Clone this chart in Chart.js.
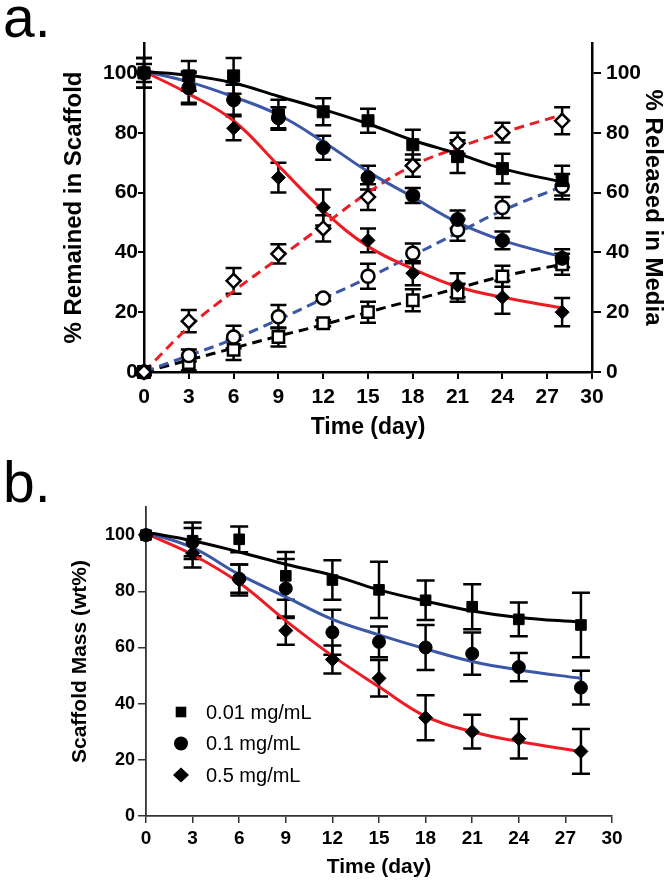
<!DOCTYPE html>
<html>
<head>
<meta charset="utf-8">
<script src="https://cdn.jsdelivr.net/npm/chart.js@4.4.1/dist/chart.umd.min.js"></script>
<style>
  html, body { margin: 0; padding: 0; background: #fff; }
  #wrap { position: relative; width: 672px; height: 886px; }
  canvas { position: absolute; left: 0; }
  #chartA { top: 0; }
  #chartB { top: 460px; }
</style>
</head>
<body>
<div id="wrap">
  <canvas id="chartA" width="672" height="450"></canvas>
  <canvas id="chartB" width="672" height="426"></canvas>
</div>
<script>
// ---- data ----
const days = [0, 3, 6, 9, 12, 15, 18, 21, 24, 28];
const xTicks = [0, 3, 6, 9, 12, 15, 18, 21, 24, 27, 30];
const yTicks = [0, 20, 40, 60, 80, 100];

// panel a: % remained in scaffold (filled) and % released in media (open)
const remLow = [100, 99, 99, 86, 87, 84, 76, 72, 68, 64];
const remLowErr = [5, 5, 6, 5, 4.5, 4, 5, 5.5, 5, 5];
const remMid = [100, 95, 91, 85, 75, 65, 59, 51, 44, 38];
const remMidErr = [5, 5.5, 5, 3.5, 4, 4, 2.5, 3, 3, 3];
const remHigh = [100, 95, 81.5, 65, 55, 44, 33, 29, 25, 20];
const remHighErr = [3, 5, 4, 5, 6, 4, 4, 4, 5.5, 4.7];

const relHigh = [0, 17, 30.5, 39.5, 48, 58.5, 69, 76.5, 80, 84];
const relHighErr = [1, 3.7, 4.3, 3.2, 4.4, 4.3, 3.7, 3.5, 3.3, 4.5];
const relMid = [0, 5.5, 11.7, 18.5, 24.7, 32, 39.7, 47.5, 55, 62];
const relMidErr = [1, 2, 3.8, 3.9, 1, 4.2, 3.3, 3.6, 3.5, 4.2];
const relLow = [0, 3, 7.4, 11.7, 16.3, 20, 24, 26.5, 32, 36];
const relLowErr = [1, 2.5, 3.4, 3.2, 1, 3.5, 3.7, 3, 3.5, 3.5];

// fitted curves
const fitRemLow = [100.5, 99.2, 96.6, 92.2, 87.8, 83, 77.5, 73, 68, 63.5];
const fitRemMid = [100.5, 97, 92, 86, 77, 67, 58.5, 50, 44, 38.5];
const fitRemHigh = [100.5, 93, 84, 69, 54, 42, 34.5, 28.5, 25, 21.4];
const fitRelHigh = [0, 15, 27, 38, 49, 60, 69, 75, 80, 86];
const fitRelMid = [0, 5.5, 11, 17.5, 24.5, 31.5, 39, 46.5, 54, 62];
const fitRelLow = [0, 4, 8, 12, 15.8, 20, 24, 28, 32, 36];

// panel b: scaffold mass
const massLow = [100, 98, 98.5, 85.5, 84, 80.5, 76.8, 74.5, 70, 68];
const massLowErr = [0, 6.5, 4.6, 8.5, 7, 10, 7, 8, 6, 11.5];
const massMid = [100, 97.5, 84.5, 81, 65.4, 62, 60, 57.8, 53, 45.7];
const massMidErr = [0, 5, 5, 10.5, 8, 5.5, 8, 7.5, 5, 6];
const massHigh = [100, 93.5, 84, 66, 55.7, 49, 35, 30, 27.5, 23];
const massHighErr = [0, 5, 5.5, 5, 5, 6.5, 8, 6, 7, 8];

const fitMassLow = [101, 98, 94, 89.6, 85.7, 80.5, 76.5, 73, 70.7, 69];
const fitMassMid = [101, 95.5, 86, 78, 70, 64.5, 59.5, 55, 52, 49];
const fitMassHigh = [100.5, 93, 83, 69.5, 57, 46, 35.5, 30, 26.5, 23];

const legendNames = ['0.01 mg/mL', '0.1 mg/mL', '0.5 mg/mL'];

// ---- styling ----
const FONT = "'Liberation Sans', Arial, Helvetica, sans-serif";
const RED = '#ed1c24';
const BLUE = '#3b57a7';
const BLACK = '#000';

const pts = vals => days.map((d, i) => ({ x: d, y: vals[i] }));

function markers(vals, errs, style, radius, open, axis) {
  return {
    data: pts(vals),
    errors: errs,
    yAxisID: axis,
    showLine: false,
    pointStyle: style,
    pointRadius: radius,
    pointHoverRadius: radius,
    pointBackgroundColor: open ? '#fff' : BLACK,
    pointBorderColor: BLACK,
    pointBorderWidth: open ? 2.5 : 1,
    clip: false
  };
}

function fit(vals, color, dashed, axis, width) {
  return {
    data: pts(vals),
    yAxisID: axis,
    borderColor: color,
    borderWidth: width,
    borderDash: dashed ? [10, 6] : [],
    pointRadius: 0,
    tension: 0.4,
    fill: false,
    clip: false
  };
}

// vertical error bars with caps, drawn under the markers
const errorBars = {
  id: 'errorBars',
  beforeDatasetsDraw(chart, args, opts) {
    const ctx = chart.ctx;
    chart.data.datasets.forEach((ds, i) => {
      if (!ds.errors) return;
      const meta = chart.getDatasetMeta(i);
      const ys = chart.scales[meta.yAxisID];
      ctx.save();
      ctx.strokeStyle = BLACK;
      ctx.lineWidth = opts.width;
      meta.data.forEach((pt, j) => {
        const e = ds.errors[j];
        if (!e) return;
        const v = ds.data[j].y;
        const top = ys.getPixelForValue(v + e);
        const bot = ys.getPixelForValue(v - e);
        const x = pt.x;
        ctx.beginPath();
        ctx.moveTo(x, top); ctx.lineTo(x, bot);
        ctx.moveTo(x - opts.cap, top); ctx.lineTo(x + opts.cap, top);
        ctx.moveTo(x - opts.cap, bot); ctx.lineTo(x + opts.cap, bot);
        ctx.stroke();
      });
      ctx.restore();
    });
  }
};

// panel letter and the in-plot legend
const decor = {
  id: 'decor',
  afterDraw(chart, args, opts) {
    const ctx = chart.ctx;
    ctx.save();
    ctx.fillStyle = BLACK;
    ctx.font = '57px ' + FONT;
    ctx.textBaseline = 'alphabetic';
    ctx.fillText(opts.letter, 3, opts.letterY);
    if (opts.legend) {
      ctx.font = '20px ' + FONT;
      ctx.textBaseline = 'middle';
      const styles = ['rect', 'circle', 'diamond'];
      legendNames.forEach((name, i) => {
        const y = 252 + i * 31.5;
        const x = 181;
        ctx.beginPath();
        if (styles[i] === 'rect') {
          ctx.rect(x - 5.3, y - 5.3, 10.6, 10.6);
        } else if (styles[i] === 'circle') {
          ctx.arc(x, y, 7, 0, Math.PI * 2);
        } else {
          ctx.moveTo(x, y - 7.5); ctx.lineTo(x + 8, y);
          ctx.lineTo(x, y + 7.5); ctx.lineTo(x - 8, y);
          ctx.closePath();
        }
        ctx.fill();
        ctx.fillText(name, 206, y + 1);
      });
    }
    ctx.restore();
  }
};

function axisX(o) {
  return {
    type: 'linear', min: 0, max: 30,
    afterBuildTicks: s => { s.ticks = xTicks.map(v => ({ value: v })); },
    afterFit: s => { s.height = o.height; },
    grid: { drawOnChartArea: false, tickLength: 7, lineWidth: o.tick, tickColor: o.color },
    border: { color: o.color, width: o.line },
    ticks: { color: BLACK, autoSkip: false, maxRotation: 0, padding: o.pad,
             font: { family: FONT, weight: 'bold', size: o.size, lineHeight: 1 } },
    title: { display: true, text: 'Time (day)', color: BLACK,
             font: { family: FONT, weight: 'bold', size: o.titleSize, lineHeight: 1 },
             padding: { top: 0, bottom: o.titlePad } }
  };
}

function axisY(o) {
  return {
    type: 'linear', min: 0, max: 110, position: o.position,
    afterBuildTicks: s => { s.ticks = yTicks.map(v => ({ value: v })); },
    afterFit: s => { s.width = o.width; },
    grid: { drawOnChartArea: false, tickLength: o.tickLen, lineWidth: o.tick, tickColor: o.color },
    border: { color: o.color, width: o.line },
    ticks: { color: BLACK, padding: o.pad,
             font: { family: FONT, weight: 'bold', size: o.size, lineHeight: 1 } },
    title: { display: true, text: o.title, color: BLACK,
             font: { family: FONT, weight: 'bold', size: o.titleSize, lineHeight: 1 },
             padding: { top: o.titlePad, bottom: 0 } }
  };
}

// ---- panel a ----
new Chart(document.getElementById('chartA'), {
  type: 'line',
  data: {
    datasets: [
      markers(remLow, remLowErr, 'rect', 8.5, false, 'y'),
      markers(remMid, remMidErr, 'circle', 7, false, 'y'),
      markers(remHigh, remHighErr, 'rectRot', 7, false, 'y'),
      markers(relHigh, relHighErr, 'rectRot', 7, true, 'y2'),
      markers(relMid, relMidErr, 'circle', 6.5, true, 'y2'),
      markers(relLow, relLowErr, 'rect', 8, true, 'y2'),
      fit(fitRemLow, BLACK, false, 'y', 3),
      fit(fitRemMid, BLUE, false, 'y', 3),
      fit(fitRemHigh, RED, false, 'y', 3),
      fit(fitRelHigh, RED, true, 'y2', 3),
      fit(fitRelMid, BLUE, true, 'y2', 3),
      fit(fitRelLow, BLACK, true, 'y2', 3)
    ]
  },
  options: {
    responsive: false,
    animation: false,
    events: [],
    layout: { padding: { top: 43, left: 0, right: 0, bottom: 0 } },
    plugins: {
      legend: { display: false },
      tooltip: { enabled: false },
      errorBars: { width: 2.5, cap: 8 },
      decor: { letter: 'a.', letterY: 37, legend: false }
    },
    scales: {
      x: axisX({ height: 78, color: BLACK, line: 2.5, tick: 2, pad: 8, size: 21, titleSize: 23, titlePad: 11 }),
      y: axisY({ position: 'left', width: 144, tickLen: 6, color: BLACK, line: 2.5, tick: 2, pad: 0, size: 21,
                 title: '% Remained in Scaffold', titleSize: 24, titlePad: 62 }),
      y2: axisY({ position: 'right', width: 80, tickLen: 9, color: BLACK, line: 2.5, tick: 2, pad: 5, size: 21,
                  title: '% Released in Media', titleSize: 24, titlePad: 7 })
    }
  },
  plugins: [errorBars, decor]
});

// ---- panel b ----
new Chart(document.getElementById('chartB'), {
  type: 'line',
  data: {
    datasets: [
      markers(massLow, massLowErr, 'rect', 7.5, false, 'y'),
      markers(massMid, massMidErr, 'circle', 6.5, false, 'y'),
      markers(massHigh, massHighErr, 'rectRot', 7, false, 'y'),
      fit(fitMassLow, BLACK, false, 'y', 3),
      fit(fitMassMid, BLUE, false, 'y', 3),
      fit(fitMassHigh, RED, false, 'y', 3)
    ]
  },
  options: {
    responsive: false,
    animation: false,
    events: [],
    layout: { padding: { top: 47, left: 0, right: 60, bottom: 0 } },
    plugins: {
      legend: { display: false },
      tooltip: { enabled: false },
      errorBars: { width: 2.5, cap: 9 },
      decor: { letter: 'b.', letterY: 42, legend: true }
    },
    scales: {
      x: axisX({ height: 70, color: '#333', line: 1.8, tick: 1.5, pad: 6.5, size: 19, titleSize: 21, titlePad: 8.5 }),
      y: axisY({ position: 'left', width: 146, tickLen: 8, color: '#333', line: 1.8, tick: 1.5, pad: 3, size: 18,
                 title: 'Scaffold Mass (wt%)', titleSize: 21, titlePad: 69.5 })
    }
  },
  plugins: [errorBars, decor]
});
</script>
</body>
</html>
